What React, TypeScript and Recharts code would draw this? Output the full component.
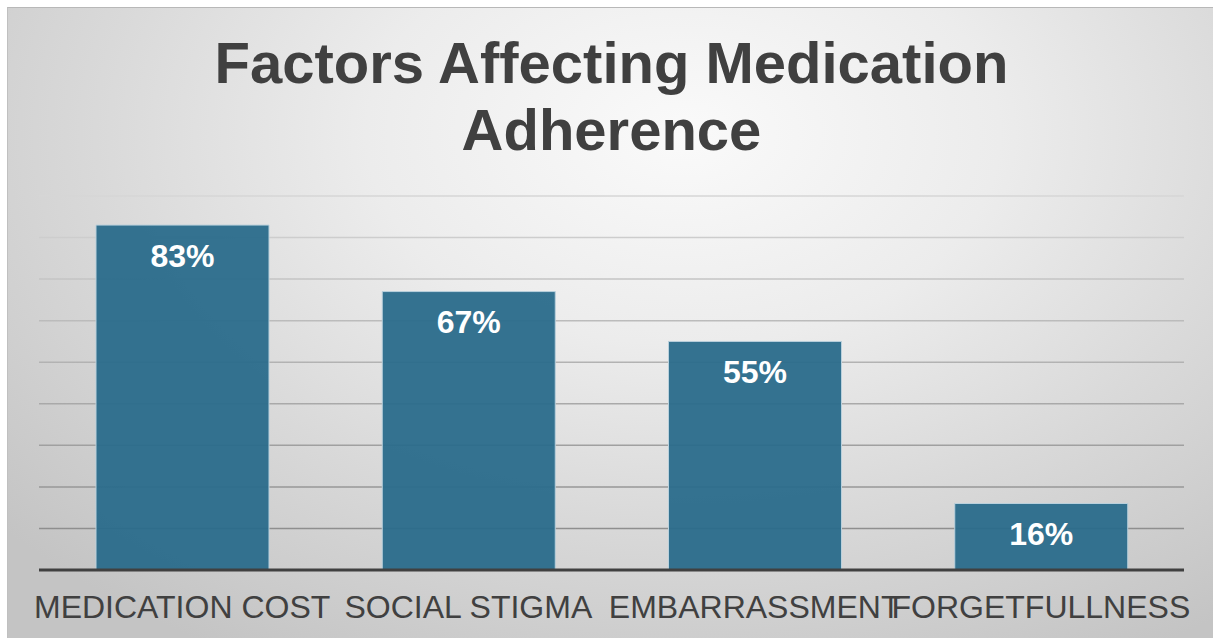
import { Bar, BarChart, CartesianGrid, LabelList, XAxis, YAxis } from 'recharts';

const categories = ['MEDICATION COST', 'SOCIAL STIGMA', 'EMBARRASSMENT', 'FORGETFULLNESS'];
const shares = [83, 67, 55, 16];
const yTicks = [0, 10, 20, 30, 40, 50, 60, 70, 80, 90];

const chartData = categories.map((name, i) => ({ name, value: shares[i] }));

const FONT = '"Liberation Sans", Arial, sans-serif';

export default function App() {
  return (
    <div style={{ position: 'absolute', left: 0, top: 0, width: 1213, height: 638, background: '#fff' }}>
      <div
        style={{
          position: 'absolute',
          left: 7,
          top: 7,
          width: 1206,
          height: 631,
          borderTop: '1px solid #b8b8b8',
          borderLeft: '1px solid #c0c0c0',
          background:
            'radial-gradient(ellipse 75% 95% at 56% 20%, #fafafa 0%, #ececec 35%, #d9d9d9 65%, #c4c4c4 100%)',
        }}
      />
      <div
        style={{
          position: 'absolute',
          left: 0,
          top: 29,
          width: 1223,
          textAlign: 'center',
          fontFamily: FONT,
          fontWeight: 700,
          fontSize: 58,
          lineHeight: '67px',
          color: '#404040',
        }}
      >
        Factors Affecting Medication
        <br />
        Adherence
      </div>
      <div style={{ position: 'absolute', left: 0, top: 0 }}>
        <BarChart
          width={1213}
          height={638}
          data={chartData}
          margin={{ top: 196, right: 29, bottom: 28, left: 39 }}
          barSize={173}
        >
          <defs>
            <linearGradient id="gridShade" gradientUnits="userSpaceOnUse" x1="0" y1="196" x2="0" y2="540">
              <stop offset="0%" stopColor="#d6d6d6" />
              <stop offset="100%" stopColor="#8c8c8c" />
            </linearGradient>
          </defs>
          <CartesianGrid vertical={false} stroke="url(#gridShade)" strokeWidth={1.5} />
          <YAxis hide domain={[0, 90]} ticks={yTicks} />
          <XAxis
            dataKey="name"
            height={40}
            interval={0}
            tickLine={false}
            axisLine={{ stroke: '#404040', strokeWidth: 3 }}
            tick={{ fill: '#404040', fontSize: 32, fontFamily: FONT }}
            tickMargin={19}
          />
          <Bar
            dataKey="value"
            fill="#2a6b8b"
            fillOpacity={0.95}
            stroke="#b9d0dc"
            strokeWidth={1}
            isAnimationActive={false}
          >
            <LabelList
              dataKey="value"
              position="insideTop"
              offset={19}
              formatter={(v: number) => `${v}%`}
              fill="#ffffff"
              style={{ fontSize: 32, fontWeight: 700, fontFamily: FONT }}
            />
          </Bar>
        </BarChart>
      </div>
    </div>
  );
}
